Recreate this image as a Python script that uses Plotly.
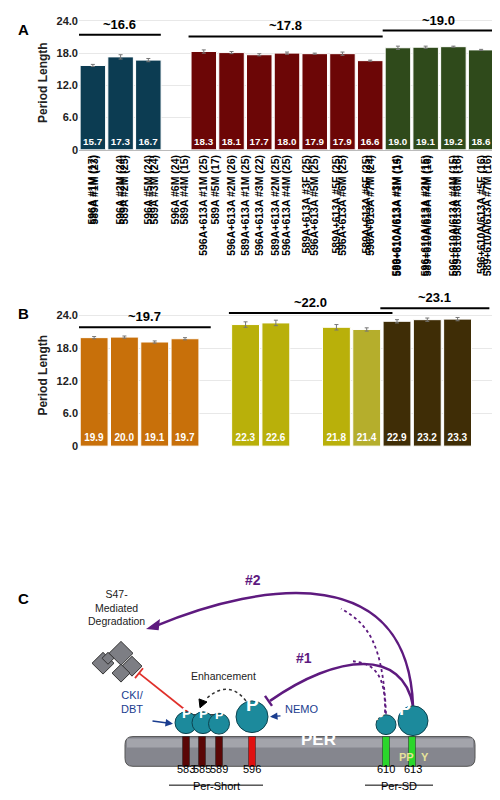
import plotly.graph_objects as go

# ---------------- data ----------------
cats_a = ["596A #1M (17)", "596A #2M (24)", "596A #5M (24)", "596A #6M (24)",
          "596A+613A #1M (25)", "596A+613A #2M (26)", "596A+613A #3M (22)", "596A+613A #4M (25)",
          "596A+613A #5M (25)", "596A+613A #6M (25)", "596A+613A #7M (24)",
          "596+610A/613A #1M (15)", "596+610A/613A #2M (15)", "596+610A/613A #4M (15)",
          "596+610A/613A #5F (16)"]
vals_a = [15.7, 17.3, 16.7, None, 18.3, 18.1, 17.7, 18.0, 17.9, 17.9, 16.6, 19.0, 19.1, 19.2, 18.6]
err_a = [0.2, 0.4, 0.3, 0, 0.3, 0.2, 0.2, 0.2, 0.1, 0.3, 0.1, 0.3, 0.2, 0.1, 0.1]
groups_a = [0, 0, 0, 0, 1, 1, 1, 1, 1, 1, 1, 2, 2, 2, 2]
colors_a = ["#0c3c52", "#6c0606", "#2f4a1b"]
brackets_a = [("~16.6", 0, 2, 21.4), ("~17.8", 4, 10, 21.1), ("~19.0", 11, 14, 22.2)]

cats_b = ["589A #1M (23)", "589A #2M (25)", "589A #3M (24)", "589A #4M (15)", "589A #5M (17)",
          "589A+613A #1M (25)", "589A+613A #2M (25)", "589A+613A #3F (25)", "589A+613A #5F (25)",
          "589A+613A #6F (25)", "589+610A/613A #3M (14)", "589+610A/613A #4M (16)",
          "589+610A/613A #6M (16)", "589+610A/613A #7M (16)"]
vals_b = [19.9, 20.0, 19.1, 19.7, None, 22.3, 22.6, None, 21.8, 21.4, 22.9, 23.2, 23.3, None]
err_b = [0.2, 0.2, 0.2, 0.2, 0, 0.5, 0.5, 0, 0.5, 0.3, 0.3, 0.3, 0.3, 0]
colors_b_list = ["#c8700a"] * 5 + ["#b9b00a"] * 4 + ["#b5ae2c"] + ["#3f2d06"] * 4
brackets_b = [("~19.7", 0, 3.4, 21.8), ("~22.0", 5, 9.4, 24.4), ("~23.1", 10, 12.6, 25.3)]

yticks = [0, 6, 12, 18, 24]
yticktext = ["0", "6.0", "12.0", "18.0", "24.0"]

FONT = "Liberation Sans, Arial, sans-serif"

fig = go.Figure()


def bar_text(v):
    return ["<b>%.1f</b>" % x if x is not None else "" for x in v]


fig.add_trace(go.Bar(
    x=list(range(len(cats_a))), y=vals_a,
    marker=dict(color=[colors_a[g] for g in groups_a], line=dict(color="white", width=1)),
    error_y=dict(type="data", array=err_a, color="#777", thickness=1, width=2),
    text=bar_text(vals_a), textposition="inside", insidetextanchor="start",
    textangle=0, textfont=dict(color="white", size=10, family=FONT),
    xaxis="x", yaxis="y", width=0.92, showlegend=False))

fig.add_trace(go.Bar(
    x=list(range(len(cats_b))), y=vals_b,
    marker=dict(color=colors_b_list, line=dict(color="white", width=1)),
    error_y=dict(type="data", array=err_b, color="#777", thickness=1, width=2),
    text=bar_text(vals_b), textposition="inside", insidetextanchor="start",
    textangle=0, textfont=dict(color="white", size=10, family=FONT),
    xaxis="x2", yaxis="y2", width=0.92, showlegend=False))

common_x = dict(tickangle=-90, tickfont=dict(size=10.5, family=FONT, color="black"),
                showgrid=False, showline=True, linecolor="#bbb", ticks="")
common_y = dict(tickvals=yticks, ticktext=["<b>%s</b>" % t for t in yticktext],
                tickfont=dict(size=11, family=FONT, color="#222"),
                showgrid=True, gridcolor="#e8e8e8", zeroline=False, showline=False,
                title=dict(text="<b>Period Length</b>", font=dict(size=12, family=FONT, color="#222"),
                           standoff=6))

fig.update_layout(
    width=500, height=800, margin=dict(l=0, r=0, t=0, b=0),
    plot_bgcolor="white", paper_bgcolor="white", bargap=0.08,
    font=dict(family=FONT),
    xaxis=dict(domain=[0.142, 0.974], range=[-0.5, 14.5],
               tickvals=list(range(len(cats_a))), ticktext=["<b>%s</b>" % c for c in cats_a], **common_x),
    yaxis=dict(domain=[1 - 142 / 800, 1 - 6.6 / 800], range=[0, 25], **common_y),
    xaxis2=dict(domain=[0.142, 0.99], range=[-0.5, 13.5],
                tickvals=list(range(len(cats_b))), ticktext=["<b>%s</b>" % c for c in cats_b], **common_x),
    yaxis2=dict(domain=[1 - 441 / 800, 1 - 298 / 800], range=[0, 26], **common_y),
)

shapes = []
annots = []
for lab, a, b, yv in brackets_a:
    shapes.append(dict(type="line", xref="x", yref="y", x0=a - 0.55, x1=b + 0.45, y0=yv, y1=yv,
                       line=dict(color="black", width=2)))
    annots.append(dict(xref="x", yref="y", x=(a + b) / 2 - 0.05, y=yv + 0.2, text="<b>%s</b>" % lab,
                       showarrow=False, yanchor="bottom", font=dict(size=13, color="black")))
for lab, a, b, yv in brackets_b:
    shapes.append(dict(type="line", xref="x2", yref="y2", x0=a - 0.55, x1=b + 0.45, y0=yv, y1=yv,
                       line=dict(color="black", width=2)))
    annots.append(dict(xref="x2", yref="y2", x=(a + b) / 2 - 0.05, y=yv + 0.2, text="<b>%s</b>" % lab,
                       showarrow=False, yanchor="bottom", font=dict(size=13, color="black")))

# panel letters
for L, xx, yy in [("A", 8, 10), ("B", 8, 307), ("C", 8, 605)]:
    annots.append(dict(xref="paper", yref="paper", x=xx / 500, y=1 - yy / 800, text="<b>%s</b>" % L,
                       showarrow=False, xanchor="left", font=dict(size=15, color="black")))


# ---------------- panel C diagram (pixel helper) ----------------
def X(x):
    return x / 500


def Y(y):
    return 1 - y / 800


def P(x, y):
    return "%.4f,%.4f" % (X(x), Y(y))


def circ(cx, cy, r, fill="#1c8a9c"):
    shapes.append(dict(type="circle", xref="paper", yref="paper", x0=X(cx - r), x1=X(cx + r),
                       y0=Y(cy + r), y1=Y(cy - r), fillcolor=fill, line=dict(color="#0d4450", width=1)))
    annots.append(dict(xref="paper", yref="paper", x=X(cx), y=Y(cy), text="<b>P</b>", showarrow=False,
                       font=dict(color="white", size=int(r * 1.0) + 3)))


def rect(x0, y0, x1, y1, fill, lc=None, lw=0):
    shapes.append(dict(type="rect", xref="paper", yref="paper", x0=X(x0), x1=X(x1), y0=Y(y1), y1=Y(y0),
                       fillcolor=fill, line=dict(color=lc or fill, width=lw)))


def path(d, color, width=2, dash="solid", fill=None):
    s = dict(type="path", xref="paper", yref="paper", path=d, line=dict(color=color, width=width, dash=dash))
    if fill:
        s["fillcolor"] = fill
    shapes.append(s)


def text(x, y, t, size=11, color="black", xa="center"):
    annots.append(dict(xref="paper", yref="paper", x=X(x), y=Y(y), text=t, showarrow=False,
                       xanchor=xa, font=dict(size=size, color=color)))


# PER bar (rounded)
r = 8
path("M %s L %s Q %s %s L %s Q %s %s L %s Q %s %s L %s Q %s %s Z" % (
    P(117 + r, 734), P(467 - r, 734), P(467, 734), P(467, 734 + r), P(467, 764 - r), P(467, 764),
    P(467 - r, 764), P(117 + r, 764), P(117, 764), P(117, 764 - r), P(117, 734 + r), P(117, 734),
    P(117 + r, 734)), "#555", 1, fill="#85868e")
rect(119, 736, 465, 745, "#a3a4ab")
text(310, 749, "<b>PER</b>", 17, "white")
text(398, 763, "<b>PP</b>", 11, "#e6e39a")
text(417, 763, "<b>Y</b>", 11, "#e6e39a")

for xs, col in [(178, "#5a0606"), (194, "#5a0606"), (211, "#5a0606"), (244, "#e01010"),
                (378, "#2bd62b"), (404, "#2bd62b")]:
    rect(xs - 3.5, 734, xs + 3.5, 764, col, "#222", 0.5)

# residue numbers and domains
for lab, xs in [("583", 178), ("585", 194), ("589", 211), ("596", 244), ("610", 378), ("613", 405)]:
    text(xs, 775, lab, 11)
shapes.append(dict(type="line", xref="paper", yref="paper", x0=X(161), x1=X(255), y0=Y(783), y1=Y(783),
                   line=dict(color="black", width=1)))
shapes.append(dict(type="line", xref="paper", yref="paper", x0=X(357), x1=X(425), y0=Y(783), y1=Y(783),
                   line=dict(color="black", width=1)))
text(208, 792, "Per-Short", 11)
text(391, 792, "Per-SD", 11)

# bracket over the small Ps
shapes.append(dict(type="line", xref="paper", yref="paper", x0=X(173), x1=X(215), y0=Y(712), y1=Y(712),
                   line=dict(color="black", width=1.2)))

# purple arcs
purple = "#5e1a7f"
path("M %s C %s %s %s" % (P(405, 703), P(400, 560), P(260, 575), P(146, 623)), purple, 2.5)
path("M %s L %s L %s Z" % (P(140, 625), P(151, 617), P(150, 626)), purple, 1.5, fill=purple)
path("M %s C %s %s %s" % (P(405, 703), P(395, 645), P(330, 650), P(262, 698)), purple, 2.5)
path("M %s L %s" % (P(257, 693), P(264, 703)), purple, 2.5)
path("M %s C %s %s %s" % (P(378, 711), P(375, 640), P(360, 620), P(333, 605)), purple, 1.8, "dot")
path("M %s C %s %s %s" % (P(377, 710), P(378, 670), P(365, 660), P(345, 658)), purple, 1.8, "dot")
text(245, 586, "<b>#2</b>", 14, purple)
text(296, 665, "<b>#1</b>", 14, purple)

# enhancement dotted arc
path("M %s Q %s %s" % (P(238, 698), P(220, 675), P(197, 697)), "#333", 1.5, "dot")
path("M %s L %s L %s Z" % (P(192, 705), P(191, 696), P(199, 699)), "black", 1, fill="black")
text(215, 681, "Enhancement", 10.5, "#222")

# red inhibitory line
path("M %s L %s" % (P(182, 711), P(131, 670)), "#e0302a", 1.8)
path("M %s L %s" % (P(127, 675), P(135, 665)), "#e0302a", 1.8)

# proteasome blocks
for cx, cy, s in [(95, 660, 11), (113, 650, 12), (124, 663, 10), (100, 655, 6), (113, 670, 9)]:
    path("M %s L %s L %s L %s Z" % (P(cx - s, cy), P(cx, cy - s), P(cx + s, cy), P(cx, cy + s)),
         "#333", 1, fill="#7d7e84")

text(108, 625, "S47-<br>Mediated<br>Degradation", 10.5, "#222")

# P circles
circ(178, 720, 11)
circ(195, 720, 11)
circ(211, 721, 10.5)
circ(244, 714, 16)
circ(378, 722, 10)
circ(405, 718, 15)

# CKI/DBT and NEMO arrows
annots.append(dict(xref="paper", yref="paper", x=X(165), y=Y(721), ax=-22, ay=-3,
                   showarrow=True, arrowhead=2, arrowwidth=1.5, arrowcolor="#1a3d8f", text=""))
annots.append(dict(xref="paper", yref="paper", x=X(262), y=Y(714), ax=12, ay=-1,
                   showarrow=True, arrowhead=2, arrowwidth=1.5, arrowcolor="#1a3d8f", text=""))
text(124, 714, "CKI/<br>DBT", 11, "#1a3d8f")
text(293, 714, "NEMO", 11, "#1a3d8f")

fig.update_layout(shapes=shapes, annotations=annots)
fig.write_html("out.html")
